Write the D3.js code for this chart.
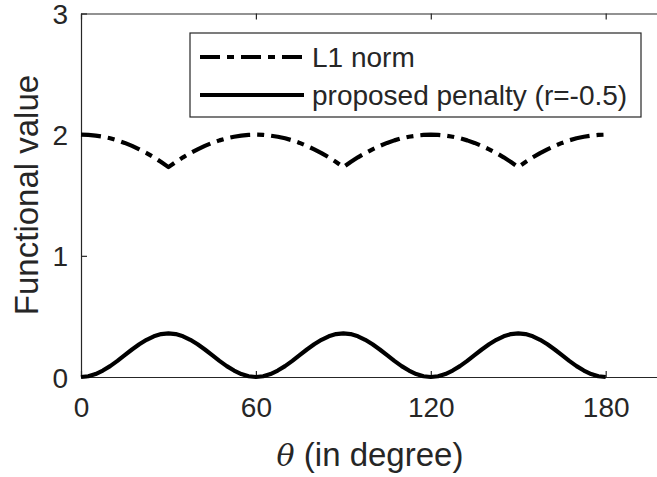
<!DOCTYPE html>
<html>
<head>
<meta charset="utf-8">
<script src="https://cdn.jsdelivr.net/npm/d3@7"></script>
<style>
  html, body { margin: 0; padding: 0; background: #ffffff; }
  svg { display: block; }
</style>
</head>
<body>
<svg id="chart" width="657" height="477"></svg>
<script>
// ---- data ----
const theta = [0,2.5,5,7.5,10,12.5,15,17.5,20,22.5,25,27.5,30,
  32.5,35,37.5,40,42.5,45,47.5,50,52.5,55,57.5,60,
  62.5,65,67.5,70,72.5,75,77.5,80,82.5,85,87.5,90,
  92.5,95,97.5,100,102.5,105,107.5,110,112.5,115,117.5,120,
  122.5,125,127.5,130,132.5,135,137.5,140,142.5,145,147.5,150,
  152.5,155,157.5,160,162.5,165,167.5,170,172.5,175,177.5,180];

const l1Norm = [2.000,1.998,1.992,1.983,1.970,1.953,1.932,1.907,1.879,1.848,1.813,1.774,1.732,
  1.774,1.813,1.848,1.879,1.907,1.932,1.953,1.970,1.983,1.992,1.998,2.000,
  1.998,1.992,1.983,1.970,1.953,1.932,1.907,1.879,1.848,1.813,1.774,1.732,
  1.774,1.813,1.848,1.879,1.907,1.932,1.953,1.970,1.983,1.992,1.998,2.000,
  1.998,1.992,1.983,1.970,1.953,1.932,1.907,1.879,1.848,1.813,1.774,1.732,
  1.774,1.813,1.848,1.879,1.907,1.932,1.953,1.970,1.983,1.992,1.998,2.000];

const penalty = [0.000,0.006,0.024,0.053,0.090,0.133,0.180,0.227,0.270,0.307,0.336,0.354,0.360,
  0.354,0.336,0.307,0.270,0.227,0.180,0.133,0.090,0.053,0.024,0.006,0.000,
  0.006,0.024,0.053,0.090,0.133,0.180,0.227,0.270,0.307,0.336,0.354,0.360,
  0.354,0.336,0.307,0.270,0.227,0.180,0.133,0.090,0.053,0.024,0.006,0.000,
  0.006,0.024,0.053,0.090,0.133,0.180,0.227,0.270,0.307,0.336,0.354,0.360,
  0.354,0.336,0.307,0.270,0.227,0.180,0.133,0.090,0.053,0.024,0.006,0.000];

const xTicks = [0, 60, 120, 180];
const yTicks = [0, 1, 2, 3];
const xDomain = [0, 200];
const yDomain = [0, 3];
const seriesNames = ["L1 norm", "proposed penalty (r=-0.5)"];
const yLabel = "Functional value";
const xLabelSym = "\u03b8";
const xLabelText = " (in degree)";

// ---- drawing ----
(function () {
const svg = d3.select("#chart");
const axisColor = "#262626";
const pLeft = 81, pRight = 664, pTop = 13.5, pBottom = 377;

const x = d3.scaleLinear().domain(xDomain).range([pLeft, pRight]);
const y = d3.scaleLinear().domain(yDomain).range([pBottom, pTop]);

const tickFont = "Liberation Sans, Arial, Helvetica, sans-serif";
const fmt = d3.format("d");

// axes with inward ticks
const tl = 6;
const gx = svg.append("g").attr("transform", `translate(0,${pBottom})`)
  .call(d3.axisBottom(x).tickValues(xTicks).tickFormat(fmt).tickSizeInner(-tl).tickSizeOuter(0));
const gxTop = svg.append("g").attr("transform", `translate(0,${pTop})`)
  .call(d3.axisTop(x).tickValues(xTicks).tickSizeInner(-tl).tickSizeOuter(0).tickFormat(""));
const gy = svg.append("g").attr("transform", `translate(${pLeft},0)`)
  .call(d3.axisLeft(y).tickValues(yTicks).tickFormat(fmt).tickSizeInner(-tl).tickSizeOuter(0).tickPadding(13));

[gx, gxTop, gy].forEach(g => {
  g.select(".domain").attr("stroke", axisColor).attr("stroke-width", 1.2);
  g.selectAll(".tick line").attr("stroke", axisColor).attr("stroke-width", 1.2);
  g.selectAll(".tick text").attr("fill", axisColor)
    .style("font-family", tickFont).style("font-size", "28px");
});
gx.selectAll(".tick text").attr("dy", null).attr("y", 40);
gy.selectAll(".tick text").attr("dy", "0.36em");

// legend
const lg = svg.append("g");
lg.append("rect").attr("x", 190).attr("y", 33).attr("width", 451).attr("height", 84)
  .attr("fill", "#fff").attr("stroke", axisColor).attr("stroke-width", 1.2);

// lines
const line = d3.line().x(d => x(d[0])).y(d => y(d[1]));
const l1Data = theta.map((t, i) => [t, l1Norm[i]]);
const penData = theta.map((t, i) => [t, penalty[i]]);

svg.append("path").datum(penData).attr("d", line)
  .attr("fill", "none").attr("stroke", "#000").attr("stroke-width", 4.2)
  .attr("stroke-linejoin", "round");
svg.append("path").datum(l1Data).attr("d", line)
  .attr("fill", "none").attr("stroke", "#000").attr("stroke-width", 4.2)
  .attr("stroke-dasharray", "20,7,7,7").attr("stroke-linejoin", "round");

// legend entries
const legendRows = [
  {name: seriesNames[0], yy: 57, dash: "20,7,7,7"},
  {name: seriesNames[1], yy: 95, dash: null}
];
legendRows.forEach(r => {
  lg.append("line").attr("x1", 200).attr("x2", 304).attr("y1", r.yy).attr("y2", r.yy)
    .attr("stroke", "#000").attr("stroke-width", 4.2)
    .attr("stroke-dasharray", r.dash);
  lg.append("text").attr("x", 312).attr("y", r.yy).attr("dy", "0.36em")
    .attr("fill", axisColor).style("font-family", tickFont).style("font-size", "28px")
    .text(r.name);
});

// axis labels
const xl = svg.append("text").attr("x", 370).attr("y", 466).attr("text-anchor", "middle")
  .attr("fill", axisColor).style("font-family", tickFont).style("font-size", "33px");
xl.append("tspan").style("font-family", "DejaVu Serif, Liberation Serif, serif")
  .style("font-style", "italic").style("font-size", "30px").text(xLabelSym);
xl.append("tspan").text(xLabelText);

svg.append("text").attr("transform", `translate(38,195) rotate(-90)`)
  .attr("text-anchor", "middle").attr("fill", axisColor)
  .style("font-family", tickFont).style("font-size", "33px").text(yLabel);
})();
</script>
</body>
</html>
